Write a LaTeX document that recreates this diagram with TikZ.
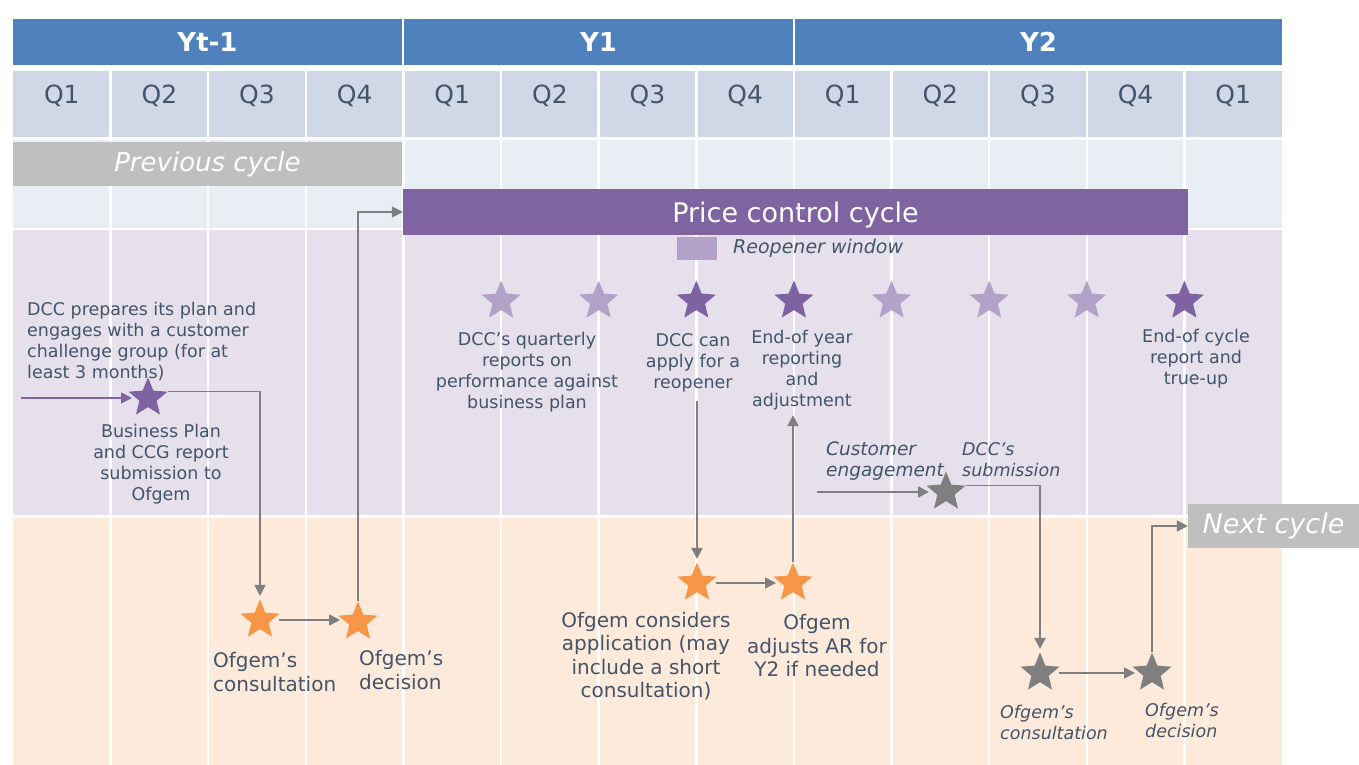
\documentclass[tikz,border=0pt]{standalone}
\usepackage{fontspec}
\setmainfont{DejaVu Sans}
\usepackage{xcolor}
\usetikzlibrary{arrows.meta,positioning,shapes.geometric}
\definecolor{hdrblue}{HTML}{4F81BD}
\definecolor{qfill}{HTML}{D0D8E7}
\definecolor{rowlight}{HTML}{E9EDF4}
\definecolor{rowlav}{HTML}{E5E0EC}
\definecolor{roworange}{HTML}{FDEADA}
\definecolor{cyclegray}{HTML}{BFBFBF}
\definecolor{pcpurple}{HTML}{8064A2}
\definecolor{starlight}{HTML}{B3A2C7}
\definecolor{stardark}{HTML}{7F62A1}
\definecolor{starorange}{HTML}{F79646}
\definecolor{linkgray}{HTML}{7F7F7F}
\definecolor{txtslate}{HTML}{44546A}

\begin{document}
\begin{tikzpicture}[
  x=1pt,
  y=-1pt,
  yearbox/.style={fill=hdrblue, text=white, font=\bfseries\fontsize{26}{30}\selectfont,
    minimum height=46pt, inner sep=0pt},
  qlabel/.style={text=txtslate, font=\fontsize{25}{30}\selectfont, inner sep=0pt},
  cyclebox/.style={fill=cyclegray, text=white, font=\itshape\fontsize{26}{30}\selectfont,
    minimum height=44pt, inner sep=0pt},
  pcbar/.style={fill=pcpurple, text=white, font=\fontsize{27}{30}\selectfont,
    minimum width=785pt, minimum height=46pt, inner sep=0pt, text height=20pt, text depth=0pt},
  mstar/.style={star, star points=5, star point ratio=2.25, minimum size=41pt,
    inner sep=0pt, draw=none},
  lbl/.style={text=txtslate, font=\fontsize{17.5}{21}\selectfont, align=center, inner sep=0pt},
  olbl/.style={text=txtslate, font=\fontsize{20}{23.5}\selectfont, align=center, inner sep=0pt},
  ilbl/.style={text=txtslate, font=\itshape\fontsize{17.5}{21}\selectfont, align=left, inner sep=0pt},
  link/.style={-{Triangle[length=11pt, width=11pt]}, line width=1.7pt, draw=linkgray},
  planlink/.style={-{Triangle[length=11pt, width=11pt]}, line width=1.7pt, draw=pcpurple}
]
\useasboundingbox (0,0) rectangle (1359,765);

\fill[qfill] (13,71) rectangle (1282,137);
\fill[rowlight] (13,140) rectangle (1282,228);
\fill[rowlav] (13,230) rectangle (1282,515);
\fill[roworange] (13,518) rectangle (1282,765);
\foreach \k in {1,...,12}
  \draw[white, line width=2.5pt] ({13+97.615*\k},71) -- ({13+97.615*\k},765);

\node[yearbox, minimum width=389pt] (yprev) at (207.5,42) {Yt-1};
\node[yearbox, minimum width=389pt] (yone) at (598.5,42) {Y1};
\node[yearbox, minimum width=487pt] (ytwo) at (1038.5,42) {Y2};
\foreach \k/\q in {0/Q1,1/Q2,2/Q3,3/Q4,4/Q1,5/Q2,6/Q3,7/Q4,8/Q1,9/Q2,10/Q3,11/Q4,12/Q1}
  \node[qlabel] (q\k) at ({13+97.615*(\k+0.5)},96) {\q};

\node[cyclebox, minimum width=389pt] (prev) at (207.5,164) {Previous cycle};
\node[pcbar] (pcc) at (795.5,212) {Price control cycle};
\node[fill=starlight, minimum width=40pt, minimum height=23pt, inner sep=0pt] (rwin) at (697,248.5) {};
\node[ilbl, font=\itshape\fontsize{19}{22}\selectfont, anchor=west] (rwinlbl) at (733,248) {Reopener window};

\node[lbl, align=left, anchor=west] (prep) at (27,342) {DCC prepares its plan and\\engages with a customer\\challenge group (for at\\least 3 months)};
\node[mstar, fill=stardark] (bp) at (148,398) {};
\coordinate (planin) at (21,398);
\node[lbl] (bplbl) at (161,464) {Business Plan\\and CCG report\\submission to\\Ofgem};

\node[mstar, fill=starorange] (cons1) at (260,620) {};
\node[mstar, fill=starorange] (dec1) at (358,622) {};
\node[olbl, align=left, anchor=west] (cons1lbl) at (213,672) {Ofgem’s\\consultation};
\node[olbl, align=left, anchor=west] (dec1lbl) at (359,670) {Ofgem’s\\decision};

\foreach \k/\c in {5/starlight,6/starlight,7/stardark,8/stardark,9/starlight,10/starlight,11/starlight,12/stardark}
  \node[mstar, fill=\c] (s\k) at ({13+97.615*\k},301) {};
\node[lbl] (qrep) at (527,372) {DCC’s quarterly\\reports on\\performance against\\business plan};
\node[lbl] (apply) at (693,363) {DCC can\\apply for a\\reopener};
\node[lbl] (endyear) at (802,370) {End-of year\\reporting\\and\\adjustment};
\node[lbl] (endcyc) at (1196,359) {End-of cycle\\report and\\true-up};

\node[mstar, fill=starorange] (orca) at (697,583) {};
\node[mstar, fill=starorange] (orcb) at (793,583) {};
\node[olbl] (considers) at (646,656) {Ofgem considers\\application (may\\include a short\\consultation)};
\node[olbl] (adjusts) at (817,646) {Ofgem\\adjusts AR for\\Y2 if needed};

\node[ilbl, font=\itshape\fontsize{18.5}{21}\selectfont, anchor=west] (custeng) at (826,461) {Customer\\engagement};
\coordinate (custin) at (817,492);
\node[mstar, fill=linkgray] (subm) at (946,492) {};
\node[ilbl, anchor=west] (submlbl) at (962,460) {DCC’s\\submission};
\node[mstar, fill=linkgray] (cons2) at (1040,673) {};
\node[mstar, fill=linkgray] (dec2) at (1152,673) {};
\node[ilbl, anchor=west] (cons2lbl) at (1000,722) {Ofgem’s\\consultation};
\node[ilbl, anchor=west] (dec2lbl) at (1145,720) {Ofgem’s\\decision};
\node[cyclebox, font=\itshape\fontsize{27}{30}\selectfont, minimum width=171pt] (next) at (1273.5,526) {Next cycle};

\draw[planlink, shorten >=16pt] (planin) -- (bp.center);
\draw[link] (bp.18) -| ([yshift=3pt]cons1.north);
\draw[link, shorten <=19pt, shorten >=18pt] (cons1.center) -- (dec1.center |- cons1.center);
\draw[link] (dec1.north) |- (pcc.west);
\draw[link, shorten <=8pt] (orca.north |- apply.south) -- ([yshift=3pt]orca.north);
\draw[link, shorten <=19pt, shorten >=17pt] (orca.center) -- (orcb.center);
\draw[link, shorten >=5pt] (orcb.north) -- (orcb.north |- endyear.south);
\draw[link, shorten >=17pt] (custin) -- (subm.center);
\draw[link] (subm.18) -| ([yshift=3pt]cons2.north);
\draw[link, shorten <=19pt, shorten >=17pt] (cons2.center) -- (dec2.center);
\draw[link] (dec2.north) |- (next.west);
\end{tikzpicture}
\end{document}
